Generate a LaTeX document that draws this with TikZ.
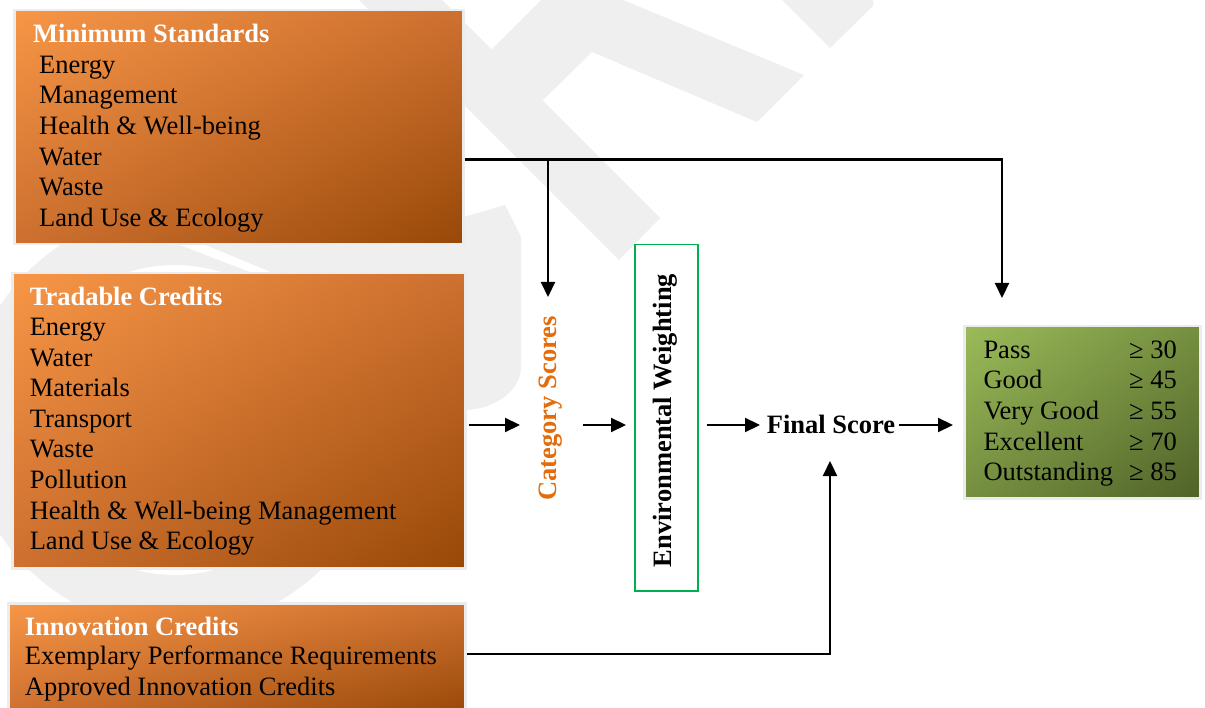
\documentclass[tikz,border=0pt]{standalone}
\usepackage{fontspec}
\setmainfont{Liberation Serif}
\usetikzlibrary{arrows.meta,shadings}
\definecolor{wm}{RGB}{239,239,239}
\definecolor{orL}{RGB}{247,150,70}
\definecolor{orM}{RGB}{205,112,48}
\definecolor{orD}{RGB}{152,72,7}
\definecolor{grL}{RGB}{155,187,89}
\definecolor{grM}{RGB}{117,143,64}
\definecolor{grD}{RGB}{79,98,40}
\definecolor{csOr}{RGB}{228,108,10}
\definecolor{ewGr}{RGB}{0,176,80}
\definecolor{bd}{RGB}{236,236,236}
\begin{document}
\begin{tikzpicture}[x=1pt,y=-1pt,
  obox/.style={rectangle, draw=bd, line width=2.5pt, anchor=north west, inner sep=0pt,
    upper left=orL, upper right=orM, lower left=orM, lower right=orD},
  gbox/.style={rectangle, draw=bd, line width=2.5pt, anchor=north west, inner sep=0pt,
    upper left=grL, upper right=grM, lower left=grM, lower right=grD},
  txt/.style={font=\fontsize{26.5}{30.6}\selectfont, inner sep=0pt, anchor=base west, align=left},
  ttl/.style={font=\fontsize{26.5}{30.6}\selectfont\bfseries, text=white, inner sep=0pt, anchor=base west},
  bld/.style={font=\fontsize{26.5}{30.6}\selectfont\bfseries, inner sep=0pt},
  arr/.style={line width=2.2pt, -{Triangle[length=15pt,width=14pt]}}]
\useasboundingbox (0,0) rectangle (1205,708);
\fill[white] (0,0) rectangle (1205,708);
% watermark
\fill[wm, even odd rule] (175,420) circle[radius=209pt] (175,420) circle[radius=155pt];
\fill[white] (175,243) -- (200,243) -- (271,272) -- (250,272) -- cycle;
\fill[wm] (205,243) -- (464,217) -- (505,205) -- (521,237) -- (521,367)
  .. controls (521,392) and (492,410) .. (464,410) -- (300,410) -- (271,272) -- cycle;
\fill[wm] (359,0) -- (442,0) -- (660,218) -- (619,260) -- cycle;
\fill[wm] (491.5,49.5) -- (541,0) -- (623,0) -- (804,75) -- (757,122) -- (592,52) -- (542.5,100.5) -- cycle;
\fill[wm] (782,0) -- (873,0) -- (873,6) -- (830,48) -- cycle;
% boxes
\node[obox, minimum width=449pt, minimum height=234pt] (ms) at (13,9) {};
\node[obox, minimum width=453pt, minimum height=295pt] (tc) at (11,272) {};
\node[obox, minimum width=457pt, minimum height=112pt] (ic) at (7,602) {};
\node[gbox, minimum width=236pt, minimum height=172pt] (rt) at (963,325) {};
\node[draw=ewGr, line width=1.5pt, minimum width=63pt, minimum height=346pt, anchor=north west, inner sep=0pt] (ewb) at (634,244) {};
% texts (multi-line nodes anchored at the baseline of their last line)
\node[ttl] (mst) at (33,42.7) {Minimum Standards};
\node[txt] (msi) at (39,226.3) {Energy\\Management\\Health \& Well-being\\Water\\Waste\\Land Use \& Ecology};
\node[ttl] (tct) at (29.6,306) {Tradable Credits};
\node[txt] (tci) at (29.6,549.7) {Energy\\Water\\Materials\\Transport\\Waste\\Pollution\\Health \& Well-being Management\\Land Use \& Ecology};
\node[ttl] (ict) at (24.7,635) {Innovation Credits};
\node[txt] (ici) at (24.7,695.3) {Exemplary Performance Requirements\\Approved Innovation Credits};
\node[txt] (rtl) at (983.3,480.7) {Pass\\Good\\Very Good\\Excellent\\Outstanding};
\node[txt] (rtv) at (1129,480.7) {≥ 30\\≥ 45\\≥ 55\\≥ 70\\≥ 85};
\node[bld, text=csOr, rotate=90, anchor=base] (cs) at (556,408.5) {Category Scores};
\node[bld, rotate=90, anchor=base] (ew) at (671.7,420.5) {Environmental Weighting};
\node[bld, anchor=base west] (fs) at (766.7,433.3) {Final Score};
% connector points
\coordinate (j1) at (548,159.5);
\coordinate (cstip) at (548,297);
\coordinate (rttip) at (1002,298);
\coordinate (row) at (0,425);
\coordinate (cstin) at (520,425);
\coordinate (csout) at (583,425);
\coordinate (icrow) at (0,654);
\coordinate (fstip) at (830,461);
% connectors
\draw[arr] (ms.east |- j1) -| (rttip);
\draw[arr] (j1) -- (cstip);
\draw[arr, shorten <=2pt] (tc.east |- row) -- (cstin);
\draw[arr, shorten >=8pt] (csout) -- (ewb.west |- row);
\draw[arr, shorten <=8pt, shorten >=6.7pt] (ewb.east |- row) -- (fs.west |- row);
\draw[arr, shorten <=4pt, shorten >=10pt] (fs.east |- row) -- (rt.west |- row);
\draw[arr] (ic.east |- icrow) -| (fstip);
\end{tikzpicture}
\end{document}
